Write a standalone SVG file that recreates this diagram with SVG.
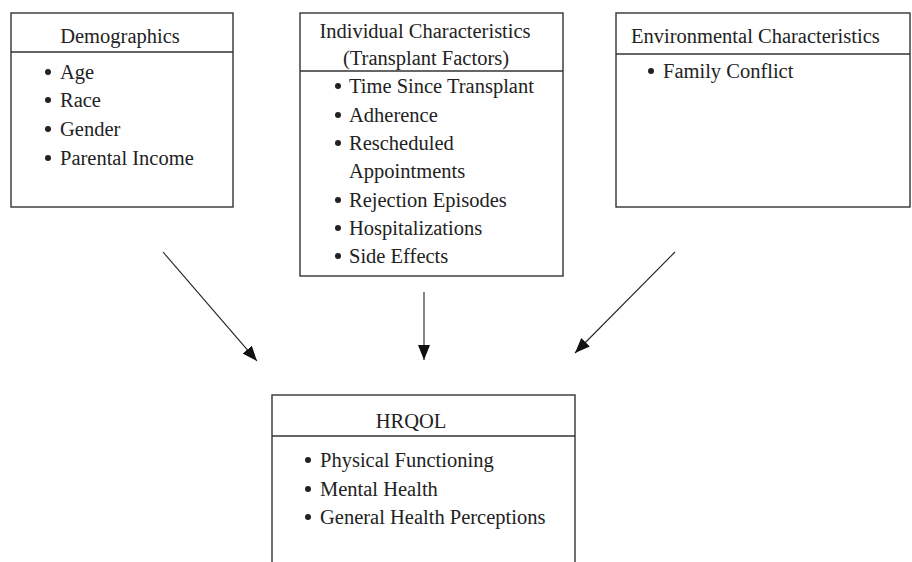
<svg xmlns="http://www.w3.org/2000/svg" width="912" height="562" viewBox="0 0 912 562">
<style>
.box{fill:#fff;stroke:#333;stroke-width:1.4}
.sep{stroke:#333;stroke-width:1.4}
.t{font-family:"Liberation Serif","Times New Roman",serif;font-size:20.5px;fill:#222}
.c{text-anchor:middle}
.b{fill:#222}
.con{stroke:#222;stroke-width:1.1;fill:none}
</style>
<defs>
<marker id="ah" viewBox="0 0 15 12" refX="15" refY="6" markerWidth="15" markerHeight="12" markerUnits="userSpaceOnUse" orient="auto">
<path d="M0,0 L15,6 L0,12 Z" fill="#111"/>
</marker>
</defs>
<rect width="912" height="562" fill="#fff"/>
<g id="demographics">
<rect class="box" x="11" y="13" width="222" height="194"/>
<line class="sep" x1="11" y1="52" x2="233" y2="52"/>
<text class="t c" x="120" y="43">Demographics</text>
<circle class="b" cx="48" cy="72" r="3"/><text class="t" x="60" y="79">Age</text>
<circle class="b" cx="48" cy="100" r="3"/><text class="t" x="60" y="107">Race</text>
<circle class="b" cx="48" cy="129" r="3"/><text class="t" x="60" y="136">Gender</text>
<circle class="b" cx="48" cy="158" r="3"/><text class="t" x="60" y="165">Parental Income</text>
</g>
<g id="individual">
<rect class="box" x="300" y="13" width="263" height="263"/>
<line class="sep" x1="300" y1="71" x2="563" y2="71"/>
<text class="t c" x="425" y="38">Individual Characteristics</text>
<text class="t c" x="426" y="65">(Transplant Factors)</text>
<circle class="b" cx="338" cy="86" r="3"/><text class="t" x="349" y="93">Time Since Transplant</text>
<circle class="b" cx="338" cy="115" r="3"/><text class="t" x="349" y="122">Adherence</text>
<circle class="b" cx="338" cy="143" r="3"/><text class="t" x="349" y="150">Rescheduled</text>
<text class="t" x="349" y="178">Appointments</text>
<circle class="b" cx="338" cy="200" r="3"/><text class="t" x="349" y="207">Rejection Episodes</text>
<circle class="b" cx="338" cy="228" r="3"/><text class="t" x="349" y="235">Hospitalizations</text>
<circle class="b" cx="338" cy="256" r="3"/><text class="t" x="349" y="263">Side Effects</text>
</g>
<g id="environmental">
<rect class="box" x="616" y="13" width="294" height="194"/>
<line class="sep" x1="616" y1="54" x2="910" y2="54"/>
<text class="t" x="631" y="43">Environmental Characteristics</text>
<circle class="b" cx="651" cy="71" r="3"/><text class="t" x="663" y="78">Family Conflict</text>
</g>
<g id="hrqol">
<rect class="box" x="272" y="395" width="303" height="180"/>
<line class="sep" x1="272" y1="436" x2="575" y2="436"/>
<text class="t c" x="411" y="428">HRQOL</text>
<circle class="b" cx="308" cy="460" r="3"/><text class="t" x="320" y="467">Physical Functioning</text>
<circle class="b" cx="308" cy="489" r="3"/><text class="t" x="320" y="496">Mental Health</text>
<circle class="b" cx="308" cy="517" r="3"/><text class="t" x="320" y="524">General Health Perceptions</text>
</g>
<g id="connectors">
<line class="con" x1="163" y1="252" x2="257" y2="361" marker-end="url(#ah)"/>
<line class="con" x1="424" y1="292" x2="424" y2="360" marker-end="url(#ah)"/>
<line class="con" x1="675" y1="252" x2="575" y2="353" marker-end="url(#ah)"/>
</g>
</svg>
